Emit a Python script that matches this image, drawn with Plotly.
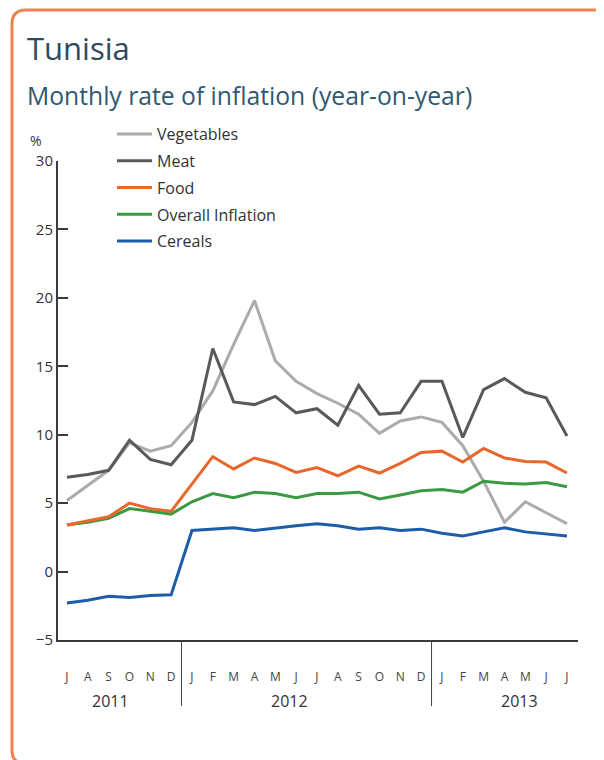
import plotly.graph_objects as go

periods = ["Jul 2011", "Aug 2011", "Sep 2011", "Oct 2011", "Nov 2011", "Dec 2011",
           "Jan 2012", "Feb 2012", "Mar 2012", "Apr 2012", "May 2012", "Jun 2012",
           "Jul 2012", "Aug 2012", "Sep 2012", "Oct 2012", "Nov 2012", "Dec 2012",
           "Jan 2013", "Feb 2013", "Mar 2013", "Apr 2013", "May 2013", "Jun 2013", "Jul 2013"]
month_letters = ["J", "A", "S", "O", "N", "D", "J", "F", "M", "A", "M", "J", "J", "A", "S",
                 "O", "N", "D", "J", "F", "M", "A", "M", "J", "J"]
years = ["2011", "2012", "2013"]

vegetables = [5.2, 6.3, 7.4, 9.4, 8.8, 9.2, 10.9, 13.2, 16.6, 19.8, 15.4, 13.9, 13.0,
              12.3, 11.5, 10.1, 11.0, 11.3, 10.9, 9.2, 6.6, 3.6, 5.1, 4.3, 3.5]
meat = [6.9, 7.1, 7.4, 9.6, 8.2, 7.8, 9.6, 16.3, 12.4, 12.2, 12.8, 11.6, 11.9,
        10.7, 13.6, 11.5, 11.6, 13.9, 13.9, 9.8, 13.3, 14.1, 13.1, 12.7, 9.9]
food = [3.4, 3.7, 4.0, 5.0, 4.6, 4.4, 6.4, 8.4, 7.5, 8.3, 7.9, 7.25, 7.6,
        7.0, 7.7, 7.2, 7.9, 8.7, 8.8, 8.0, 9.0, 8.3, 8.05, 8.0, 7.2]
overall = [3.4, 3.6, 3.9, 4.6, 4.4, 4.2, 5.1, 5.7, 5.4, 5.8, 5.7, 5.4, 5.7,
           5.7, 5.8, 5.3, 5.6, 5.9, 6.0, 5.8, 6.6, 6.45, 6.4, 6.5, 6.2]
cereals = [-2.3, -2.1, -1.8, -1.9, -1.75, -1.7, 3.0, 3.1, 3.2, 3.0, 3.2, 3.35, 3.5,
           3.35, 3.1, 3.2, 3.0, 3.1, 2.8, 2.6, 2.9, 3.2, 2.9, 2.75, 2.6]
y_ticks = [-5, 0, 5, 10, 15, 20, 25, 30]

FONT = "Open Sans"
TXT = "#333333"

series = [
    ("Vegetables", vegetables, "#ABABAB", 1),
    ("Meat", meat, "#58595B", 2),
    ("Overall Inflation", overall, "#3A9A41", 4),
    ("Food", food, "#E8672C", 3),
    ("Cereals", cereals, "#1D5CA8", 5),
]

fig = go.Figure()
for name, vals, col, rank in series:
    fig.add_trace(go.Scatter(
        x=periods, y=vals, mode="lines", name=name,
        line=dict(color=col, width=3), legendrank=rank, legendgroup=name,
    ))

# the page body has an 8px margin: work in page pixels, subtract offset
OFF = 8
W, H = 604 - OFF, 760 - OFF
PL, PR, PT, PB = 58, 578, 161, 640  # plot area in page pixels
L, T = PL - OFF, PT - OFF
R, B = W - (PR - OFF), H - (PB - OFF)
pw, ph = PR - PL, PB - PT


def px(xp):
    return (xp - PL) / pw


def py(yp):
    return (PB - yp) / ph


shapes = []
for xs in [5.5, 17.5]:
    shapes.append(dict(type="line", xref="x", yref="paper", x0=xs, x1=xs,
                       y0=0, y1=py(706), line=dict(color="#444444", width=1)))
x0, xr = px(12), px(620)
yt, yb = py(10), py(764)
rx, ry = 14 / pw, 14 / ph
path = (f"M {xr},{yt} L {x0 + rx},{yt} Q {x0},{yt} {x0},{yt - ry} "
        f"L {x0},{yb + ry} Q {x0},{yb} {x0 + rx},{yb} L {xr},{yb}")
shapes.append(dict(type="path", xref="paper", yref="paper", path=path,
                   line=dict(color="#EE8450", width=3)))

annotations = [
    dict(text="Tunisia", xref="paper", yref="paper", x=px(25), y=py(48),
         xanchor="left", yanchor="middle", showarrow=False,
         font=dict(family=FONT, size=31, color="#2E4A5C")),
    dict(text="Monthly rate of inflation (year-on-year)", xref="paper", yref="paper",
         x=px(25), y=py(96), xanchor="left", yanchor="middle", showarrow=False,
         font=dict(family=FONT, size=24.7, color="#2F5870")),
    dict(text="%", xref="paper", yref="paper", x=px(28), y=py(141),
         xanchor="left", yanchor="middle", showarrow=False,
         font=dict(family=FONT, size=14, color=TXT)),
]
for yr, xc in zip(years, [2.1, 10.7, 21.7]):
    annotations.append(dict(text=yr, xref="x", yref="paper", x=xc, y=py(701),
                            xanchor="center", yanchor="middle", showarrow=False,
                            font=dict(family=FONT, size=16, color=TXT)))

fig.update_layout(
    width=W, height=H,
    margin=dict(l=L, r=R, t=T, b=B),
    paper_bgcolor="white", plot_bgcolor="white",
    font=dict(family=FONT, color=TXT),
    showlegend=True,
    legend=dict(x=px(112), y=py(117), xanchor="left", yanchor="top",
                font=dict(family=FONT, size=16, color=TXT),
                bgcolor="rgba(0,0,0,0)", itemwidth=35, tracegroupgap=3,
                traceorder="grouped"),
    shapes=shapes, annotations=annotations,
    xaxis=dict(type="category", range=[-0.43, 24.53], tickvals=periods,
               ticktext=month_letters, showgrid=False, zeroline=False,
               showline=True, linecolor="#3A3A3A", linewidth=2, ticks="",
               ticklabelstandoff=25, tickfont=dict(family=FONT, size=12, color="#444444")),
    yaxis=dict(range=[-5, 30], tickvals=y_ticks, showgrid=False, zeroline=False,
               showline=True, linecolor="#3A3A3A", linewidth=2, ticks="inside",
               ticklen=10, tickwidth=2, tickcolor="#3A3A3A",
               tickfont=dict(family=FONT, size=15, color=TXT)),
)

fig.write_html("out.html")
